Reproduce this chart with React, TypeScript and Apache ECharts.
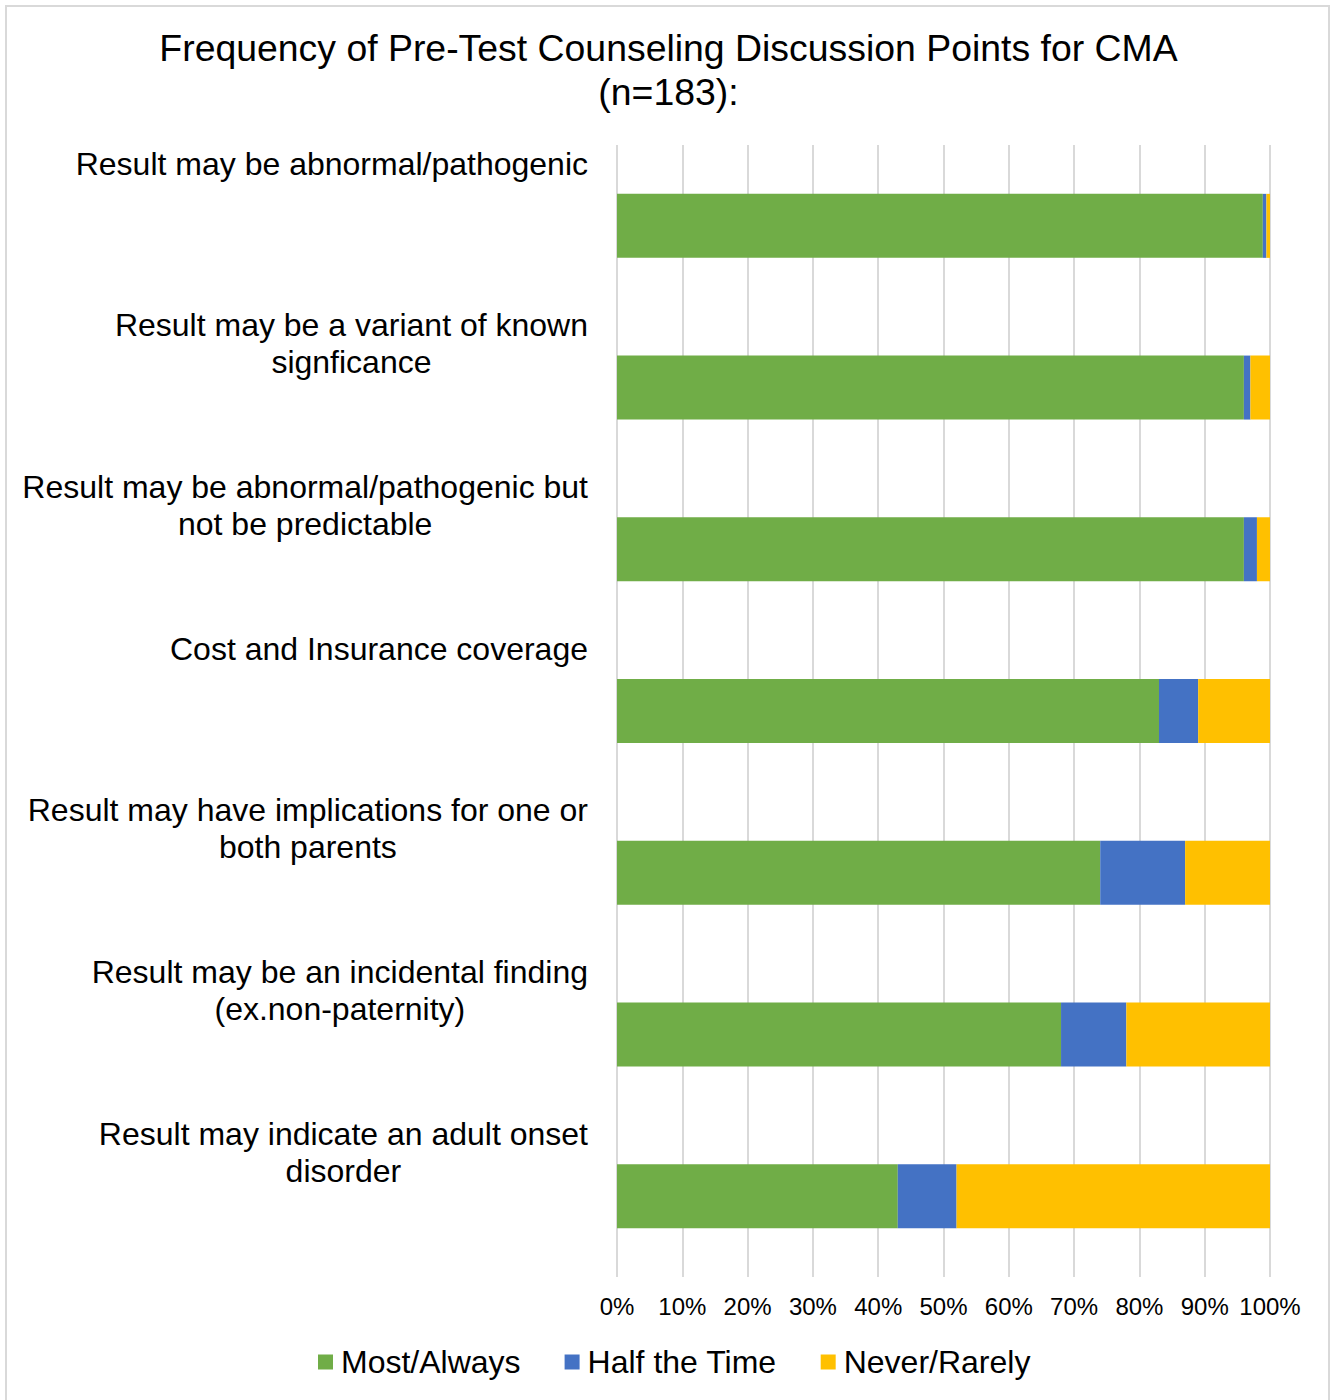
import React, { useEffect, useRef } from "react";
import * as echarts from "echarts";

const categories = [
  "Result may be abnormal/pathogenic",
  "Result may be a variant of known\nsignficance",
  "Result may be abnormal/pathogenic but\nnot be predictable",
  "Cost and Insurance coverage",
  "Result may have implications for one or\nboth parents",
  "Result may be an incidental finding\n(ex.non-paternity)",
  "Result may indicate an adult onset\ndisorder",
];
const seriesNames = ["Most/Always", "Half the Time", "Never/Rarely"];
const mostAlways = [98.9, 96.0, 96.0, 83.0, 74.0, 68.0, 43.0];
const halfTime = [0.55, 1.0, 2.0, 6.0, 13.0, 10.0, 9.0];
const neverRarely = [0.55, 3.0, 2.0, 11.0, 13.0, 22.0, 48.0];
const colors = ["#70AD47", "#4472C4", "#FFC000"];

const FONT = "'Liberation Sans', Arial, sans-serif";

export default function App() {
  const ref = useRef<HTMLDivElement>(null);
  useEffect(() => {
    if (!ref.current) return;
    const chart = echarts.init(ref.current, undefined, { renderer: "svg" });
    const labelData = [...categories, ""];
    const values = [mostAlways, halfTime, neverRarely];
    chart.setOption({
      animation: false,
      backgroundColor: "#ffffff",
      textStyle: { fontFamily: FONT },
      title: {
        text: "Frequency of Pre-Test Counseling Discussion Points for CMA\n(n=183):",
        left: "center",
        top: 21,
        textStyle: {
          fontFamily: FONT,
          fontSize: 37.4,
          fontWeight: "normal",
          color: "#000000",
          lineHeight: 44,
        },
      },
      graphic: [
        {
          type: "rect",
          shape: { x: 6, y: 6, width: 1323, height: 1410 },
          style: { fill: "none", stroke: "#d9d9d9", lineWidth: 2 },
          silent: true,
        },
      ],
      legend: {
        data: seriesNames,
        left: 313,
        top: 1341,
        icon: "rect",
        itemWidth: 15,
        itemHeight: 15,
        itemGap: 44,
        textStyle: {
          fontFamily: FONT,
          fontSize: 32,
          color: "#000000",
          padding: [0, 0, 0, 3],
        },
      },
      grid: { left: 617, right: 67, top: 145, bottom: 123 },
      xAxis: {
        type: "value",
        min: 0,
        max: 100,
        interval: 10,
        axisLine: { show: false },
        axisTick: { show: false },
        axisLabel: {
          formatter: "{value}%",
          fontFamily: FONT,
          fontSize: 24,
          color: "#000000",
          margin: 17,
        },
        splitLine: { show: true, lineStyle: { color: "#d9d9d9", width: 2 } },
      },
      yAxis: [
        {
          type: "category",
          inverse: true,
          data: categories,
          boundaryGap: true,
          axisLine: { show: false },
          axisTick: { show: false },
          axisLabel: { show: false },
        },
        {
          type: "category",
          inverse: true,
          position: "left",
          data: labelData,
          boundaryGap: false,
          axisLine: { show: false },
          axisTick: { show: false },
          splitLine: { show: false },
          axisLabel: {
            interval: 0,
            margin: 29,
            align: "right",
            verticalAlign: "top",
            formatter: (v: string) =>
              v
                .split("\n")
                .map((l) => `{c|${l}}`)
                .join("\n"),
            rich: {
              c: {
                fontFamily: FONT,
                fontSize: 32,
                lineHeight: 37,
                color: "#000000",
                align: "center",
              },
            },
          },
        },
      ],
      series: seriesNames.map((name, i) => ({
        name,
        type: "bar",
        stack: "total",
        yAxisIndex: 0,
        barWidth: 64,
        data: values[i],
        itemStyle: { color: colors[i] },
      })),
    });
    return () => chart.dispose();
  }, []);
  return (
    <div
      ref={ref}
      style={{ position: "absolute", left: 0, top: 0, width: 1337, height: 1400 }}
    />
  );
}
